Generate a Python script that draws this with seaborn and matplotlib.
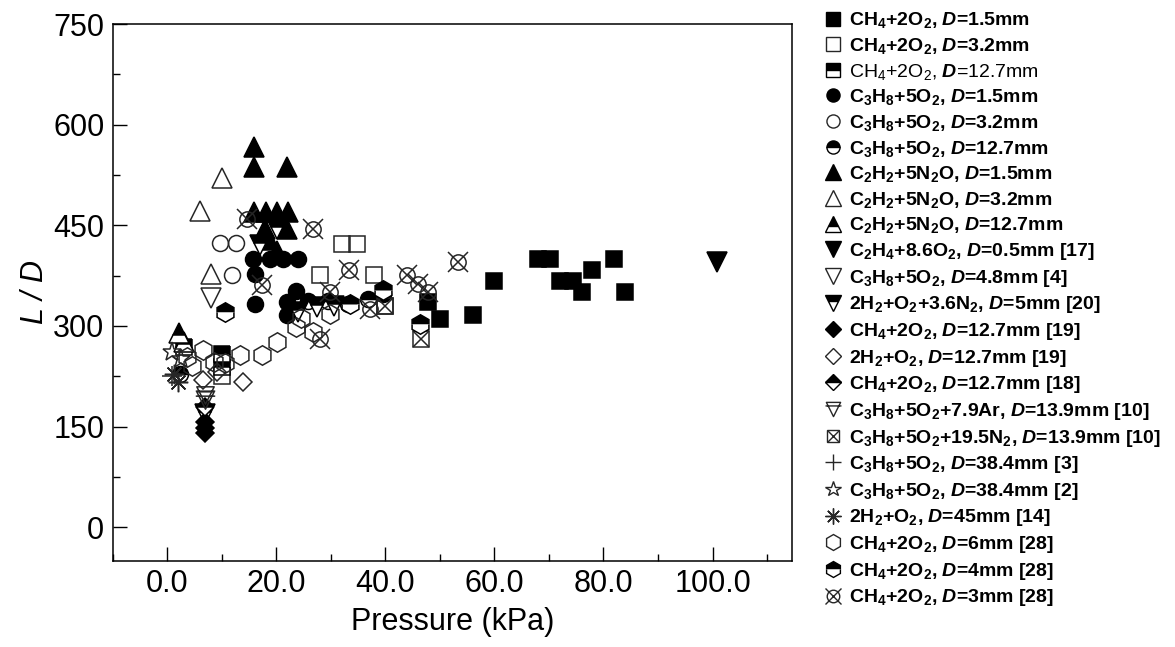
import matplotlib
matplotlib.use("Agg")
import matplotlib.pyplot as plt
import seaborn as sns
from matplotlib.lines import Line2D
from matplotlib.path import Path
from matplotlib.legend_handler import HandlerTuple
from matplotlib.ticker import MultipleLocator, FormatStrFormatter

# ---------------- data (pressure kPa, L/D) ----------------
ch4_d15_x = [47.9, 50.0, 56.0, 60.0, 68.0, 70.2, 72.0, 74.4, 76.0, 77.9, 82.0, 83.9]
ch4_d15_y = [335.7, 310.9, 316.9, 366.6, 400.4, 400.4, 366.6, 366.6, 350.6, 383.0, 400.4, 350.6]
ch4_d32_x = [28.0, 32.0, 34.8, 38.0, 10.0, 40.0]
ch4_d32_y = [375.5, 421.7, 421.7, 375.5, 225.0, 330.0]
ch4_d127_x = [3.0, 10.0, 10.0]
ch4_d127_y = [268.0, 258.0, 238.0]
c3h8_d15_x = [15.8, 16.1, 16.1, 18.8, 21.3, 24.0, 21.9, 21.9, 23.7, 39.6]
c3h8_d15_y = [400.0, 378.0, 333.0, 400.0, 400.0, 400.0, 336.0, 316.0, 352.0, 348.0]
c3h8_d32_x = [9.7, 12.7, 11.8]
c3h8_d32_y = [423.0, 423.0, 375.5]
c3h8_d127_x = [2.3, 25.9, 29.5, 33.2, 36.9]
c3h8_d127_y = [229.0, 337.0, 337.0, 333.0, 340.0]
c2h2_d15_x = [15.9, 15.9, 21.9, 15.9, 18.1, 20.1, 22.1, 18.0, 21.9, 18.6, 20.1]
c2h2_d15_y = [567.0, 537.0, 537.0, 470.0, 470.0, 470.0, 470.0, 445.0, 445.0, 428.0, 412.0]
c2h2_d32_x = [10.0, 6.0, 8.0]
c2h2_d32_y = [520.0, 472.0, 378.0]
c2h2_d127_x = [2.2, 3.0]
c2h2_d127_y = [290.0, 276.0]
c2h4_x = [100.9]
c2h4_y = [395.0]
c3h8_d48_x = [8.0]
c3h8_d48_y = [341.0]
h2n2_x = [6.9, 17.0, 20.1, 24.0, 27.5, 30.5]
h2n2_y = [168.0, 420.0, 445.0, 320.0, 328.0, 330.0]
ch4_r19_x = [6.9, 6.9, 6.9]
ch4_r19_y = [157.0, 148.0, 140.0]
h2o2_r19_x = [13.9, 6.6, 9.2]
h2o2_r19_y = [216.0, 219.0, 232.0]
ch4_r18_x = [6.9]
ch4_r18_y = [179.0]
c3h8_ar_x = [6.9, 6.9]
c3h8_ar_y = [197.0, 190.0]
c3h8_n2_x = [46.6, 39.9]
c3h8_n2_y = [281.0, 330.0]
c3h8_r3_x = [0.8]
c3h8_r3_y = [226.0]
c3h8_r2_x = [0.8, 2.5]
c3h8_r2_y = [261.0, 250.0]
h2o2_r14_x = [2.0, 1.2]
h2o2_r14_y = [216.0, 228.0]
ch4_d6_x = [3.6, 6.6, 10.6, 13.3, 17.3, 20.1, 23.7, 26.8, 24.5, 29.8, 4.5, 8.5]
ch4_d6_y = [254.0, 264.0, 244.0, 256.0, 256.0, 276.0, 298.0, 291.0, 312.0, 318.0, 240.0, 246.0]
ch4_d4_x = [10.6, 46.3, 39.6, 33.5]
ch4_d4_y = [321.0, 303.0, 353.0, 332.0]
ch4_d3_x = [14.6, 26.7, 33.4, 17.3, 29.8, 43.9, 46.0, 47.9, 53.4, 28.0, 37.2]
ch4_d3_y = [460.0, 443.7, 383.0, 360.6, 350.6, 375.5, 363.0, 350.6, 395.4, 281.0, 325.8]

labels = [
    r"CH$\mathregular{_4}$+2O$\mathregular{_2}$, $\mathit{D}$=1.5mm",
    r"CH$\mathregular{_4}$+2O$\mathregular{_2}$, $\mathit{D}$=3.2mm",
    r"CH$\mathregular{_4}$+2O$\mathregular{_2}$, $\mathit{D}$=12.7mm",
    r"C$\mathregular{_3}$H$\mathregular{_8}$+5O$\mathregular{_2}$, $\mathit{D}$=1.5mm",
    r"C$\mathregular{_3}$H$\mathregular{_8}$+5O$\mathregular{_2}$, $\mathit{D}$=3.2mm",
    r"C$\mathregular{_3}$H$\mathregular{_8}$+5O$\mathregular{_2}$, $\mathit{D}$=12.7mm",
    r"C$\mathregular{_2}$H$\mathregular{_2}$+5N$\mathregular{_2}$O, $\mathit{D}$=1.5mm",
    r"C$\mathregular{_2}$H$\mathregular{_2}$+5N$\mathregular{_2}$O, $\mathit{D}$=3.2mm",
    r"C$\mathregular{_2}$H$\mathregular{_2}$+5N$\mathregular{_2}$O, $\mathit{D}$=12.7mm",
    r"C$\mathregular{_2}$H$\mathregular{_4}$+8.6O$\mathregular{_2}$, $\mathit{D}$=0.5mm [17]",
    r"C$\mathregular{_3}$H$\mathregular{_8}$+5O$\mathregular{_2}$, $\mathit{D}$=4.8mm [4]",
    r"2H$\mathregular{_2}$+O$\mathregular{_2}$+3.6N$\mathregular{_2}$, $\mathit{D}$=5mm [20]",
    r"CH$\mathregular{_4}$+2O$\mathregular{_2}$, $\mathit{D}$=12.7mm [19]",
    r"2H$\mathregular{_2}$+O$\mathregular{_2}$, $\mathit{D}$=12.7mm [19]",
    r"CH$\mathregular{_4}$+2O$\mathregular{_2}$, $\mathit{D}$=12.7mm [18]",
    r"C$\mathregular{_3}$H$\mathregular{_8}$+5O$\mathregular{_2}$+7.9Ar, $\mathit{D}$=13.9mm [10]",
    r"C$\mathregular{_3}$H$\mathregular{_8}$+5O$\mathregular{_2}$+19.5N$\mathregular{_2}$, $\mathit{D}$=13.9mm [10]",
    r"C$\mathregular{_3}$H$\mathregular{_8}$+5O$\mathregular{_2}$, $\mathit{D}$=38.4mm [3]",
    r"C$\mathregular{_3}$H$\mathregular{_8}$+5O$\mathregular{_2}$, $\mathit{D}$=38.4mm [2]",
    r"2H$\mathregular{_2}$+O$\mathregular{_2}$, $\mathit{D}$=45mm [14]",
    r"CH$\mathregular{_4}$+2O$\mathregular{_2}$, $\mathit{D}$=6mm [28]",
    r"CH$\mathregular{_4}$+2O$\mathregular{_2}$, $\mathit{D}$=4mm [28]",
    r"CH$\mathregular{_4}$+2O$\mathregular{_2}$, $\mathit{D}$=3mm [28]",
]

xs = [ch4_d15_x, ch4_d32_x, ch4_d127_x, c3h8_d15_x, c3h8_d32_x, c3h8_d127_x,
      c2h2_d15_x, c2h2_d32_x, c2h2_d127_x, c2h4_x, c3h8_d48_x, h2n2_x,
      ch4_r19_x, h2o2_r19_x, ch4_r18_x, c3h8_ar_x, c3h8_n2_x, c3h8_r3_x,
      c3h8_r2_x, h2o2_r14_x, ch4_d6_x, ch4_d4_x, ch4_d3_x]
ys = [ch4_d15_y, ch4_d32_y, ch4_d127_y, c3h8_d15_y, c3h8_d32_y, c3h8_d127_y,
      c2h2_d15_y, c2h2_d32_y, c2h2_d127_y, c2h4_y, c3h8_d48_y, h2n2_y,
      ch4_r19_y, h2o2_r19_y, ch4_r18_y, c3h8_ar_y, c3h8_n2_y, c3h8_r3_y,
      c3h8_r2_y, h2o2_r14_y, ch4_d6_y, ch4_d4_y, ch4_d3_y]

# ---------------- styles ----------------
K = "black"
G = "#262626"
def filled(m, s):
    return dict(marker=m, markersize=s, markerfacecolor=K, markeredgecolor=K)
def hollow(m, s):
    return dict(marker=m, markersize=s, markerfacecolor="none", markeredgecolor=G)
def half(m, s):
    return dict(marker=m, markersize=s, markerfacecolor=K, markeredgecolor=K,
                fillstyle="top", markerfacecoloralt="white")

ar_marker = Path([(-1, 1), (1, 1), (0, -1), (-1, 1), (-1.12, 0.5), (1.12, 0.5)],
                 [Path.MOVETO, Path.LINETO, Path.LINETO, Path.CLOSEPOLY,
                  Path.MOVETO, Path.LINETO])

styles = [
    [filled("s", 12)], [hollow("s", 12)], [half("s", 12)],
    [filled("o", 11.5)], [hollow("o", 11.5)], [half("o", 11.5)],
    [filled("^", 14)], [hollow("^", 14)], [half("^", 14)],
    [filled("v", 14)], [hollow("v", 14)], [half("v", 14)],
    [filled("D", 9.5)], [hollow("D", 9.5)], [half("D", 9.5)],
    [hollow(ar_marker, 14)],
    [hollow("s", 11), hollow("x", 11)],
    [hollow("+", 14)],
    [hollow("*", 14)],
    [hollow((8, 2, 0), 14)],
    [hollow("h", 14)], [half("h", 14)],
    [hollow("o", 11), hollow("x", 14)],
]

# ---------------- figure ----------------
sns.set_theme(style="white")
plt.rcParams["font.family"] = ["Liberation Sans", "DejaVu Sans"]
plt.rcParams["mathtext.fontset"] = "custom"
plt.rcParams["mathtext.rm"] = "Liberation Sans"
plt.rcParams["mathtext.it"] = "Liberation Sans:italic:bold"
plt.rcParams["mathtext.bf"] = "Liberation Sans:bold"

fig = plt.figure(figsize=(11.75, 6.47), dpi=100)
ax = fig.add_axes([0.0959, 0.1334, 0.5783, 0.8295])

for x, y, layers in zip(xs, ys, styles):
    for st in layers:
        sns.lineplot(x=x, y=y, ax=ax, estimator=None, sort=False, linestyle="none",
                     markeredgewidth=1.1, color=K, legend=False, **st)

ax.set_xlim(-10, 114.6)
ax.set_ylim(-50, 750)
ax.xaxis.set_major_locator(MultipleLocator(20))
ax.xaxis.set_minor_locator(MultipleLocator(10))
ax.xaxis.set_major_formatter(FormatStrFormatter("%.1f"))
ax.yaxis.set_major_locator(MultipleLocator(150))
ax.yaxis.set_minor_locator(MultipleLocator(75))
ax.tick_params(which="both", direction="in", top=False, right=False,
               bottom=True, left=True, width=1.0, color=K, labelcolor=K)
ax.tick_params(which="major", length=10, labelsize=22, pad=6)
ax.tick_params(which="minor", length=5)
for sp in ax.spines.values():
    sp.set_color(K)
    sp.set_linewidth(1.1)
ax.set_xlabel("Pressure (kPa)", fontsize=22, color=K, labelpad=6)
ax.set_ylabel("L / D", fontsize=22, color=K, style="italic", labelpad=2)

# legend
handles = []
for layers in styles:
    hs = []
    for st in layers:
        st2 = dict(st)
        st2["markersize"] = st["markersize"] * 0.82
        hs.append(Line2D([], [], linestyle="none", markeredgewidth=1.0, **st2))
    handles.append(hs[0] if len(hs) == 1 else tuple(hs))

leg = fig.legend(handles, labels, loc="upper left", bbox_to_anchor=(0.700, 0.984),
                 frameon=False, prop=dict(size=14, weight="bold"),
                 labelspacing=0.29, handlelength=1.05, handletextpad=0.3,
                 borderpad=0, borderaxespad=0,
                 handler_map={tuple: HandlerTuple(ndivide=1)})
leg.get_texts()[2].set_fontweight("normal")
for t in leg.get_texts():
    t.set_color(K)

fig.savefig("out.png", dpi=100, facecolor="white")
